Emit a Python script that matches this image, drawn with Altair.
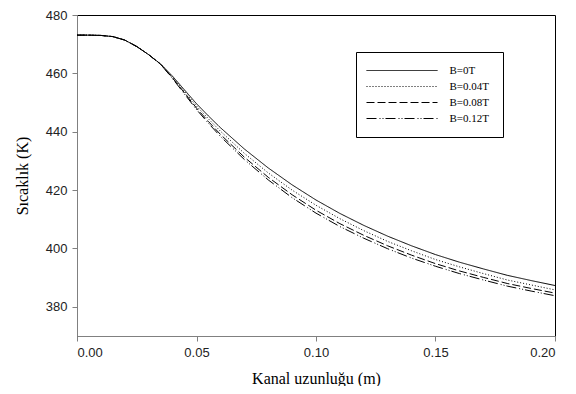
import altair as alt
import pandas as pd

# Channel length (m)
x_m = [0.000, 0.005, 0.010, 0.015, 0.020, 0.025, 0.030, 0.035, 0.040, 0.045,
       0.050, 0.055, 0.060, 0.070, 0.080, 0.090, 0.100, 0.110, 0.120, 0.130,
       0.140, 0.150, 0.160, 0.170, 0.180, 0.190, 0.200]

# Temperature (K) for each magnetic field
t_b000 = [473.1, 473.1, 473.0, 472.6, 471.4, 469.2, 466.4, 463.2, 459.0, 454.3,
          449.6, 445.4, 441.4, 434.1, 427.6, 421.8, 416.6, 412.0, 407.9, 404.2,
          400.9, 397.9, 395.3, 393.0, 390.8, 389.0, 387.3]
t_b004 = [473.1, 473.1, 473.0, 472.6, 471.4, 469.2, 466.4, 463.2, 458.7, 453.8,
          448.8, 444.4, 440.2, 432.6, 425.9, 420.0, 414.8, 410.2, 406.1, 402.4,
          399.2, 396.2, 393.7, 391.4, 389.2, 387.5, 385.8]
t_b008 = [473.1, 473.1, 473.0, 472.6, 471.4, 469.2, 466.4, 463.1, 458.4, 453.3,
          448.1, 443.5, 439.1, 431.3, 424.4, 418.4, 413.1, 408.5, 404.5, 400.9,
          397.7, 394.8, 392.3, 390.1, 388.0, 386.3, 384.7]
t_b012 = [473.1, 473.1, 473.0, 472.6, 471.4, 469.2, 466.4, 463.1, 458.2, 452.9,
          447.6, 442.9, 438.4, 430.5, 423.5, 417.4, 412.1, 407.5, 403.5, 399.9,
          396.7, 393.9, 391.4, 389.2, 387.1, 385.4, 383.8]

series_names = ["B=0T", "B=0.04T", "B=0.08T", "B=0.12T"]
series_values = [t_b000, t_b004, t_b008, t_b012]
dash_patterns = [[1, 0], [1, 2], [8, 3], [10, 3, 1, 2, 1, 2]]

x_ticks = [0.00, 0.05, 0.10, 0.15, 0.20]
y_ticks = [380, 400, 420, 440, 460, 480]

rows = []
for name, vals in zip(series_names, series_values):
    for xv, tv in zip(x_m, vals):
        rows.append({"x": xv, "T": tv, "B": name})
df = pd.DataFrame(rows)

chart = alt.Chart(df).mark_line(color="black", strokeWidth=1).encode(
    x=alt.X("x:Q",
            scale=alt.Scale(domain=[0, 0.2], nice=False),
            axis=alt.Axis(values=x_ticks, format=".2f", title="Kanal uzunluğu (m)",
                          titlePadding=11)),
    y=alt.Y("T:Q",
            scale=alt.Scale(domain=[370, 480], nice=False, zero=False),
            axis=alt.Axis(values=y_ticks, format="d", title="Sıcaklık (K)",
                          titlePadding=15)),
    strokeDash=alt.StrokeDash("B:N",
                              scale=alt.Scale(domain=series_names, range=dash_patterns),
                              legend=alt.Legend(title=None, orient="none",
                                                legendX=279, legendY=37)),
).properties(
    width=478,
    height=321,
    autosize=alt.AutoSizeParams(type="none"),
    padding={"left": 69, "top": 7, "right": 13, "bottom": 50},
).configure_view(
    stroke="black", strokeWidth=1
).configure_axis(
    grid=False,
    domainColor="#808080",
    tickColor="#808080",
    tickSize=5,
    labelFont="Liberation Sans",
    labelFontSize=13,
    labelColor="#222222",
    labelPadding=5,
    titleFont="Liberation Serif",
    titleFontSize=16,
    titleFontWeight="normal",
    titleColor="black",
).configure_legend(
    strokeColor="black",
    fillColor="white",
    padding=13,
    symbolType="M-7.1,0H7.1",
    symbolSize=100,
    symbolOffset=27.5,
    symbolStrokeWidth=1,
    symbolStrokeColor="black",
    labelFont="Liberation Serif",
    labelFontSize=11,
    labelColor="black",
    labelOffset=42,
    rowPadding=4,
)

chart.save("out.html", embed_options={"renderer": "svg", "actions": False})
